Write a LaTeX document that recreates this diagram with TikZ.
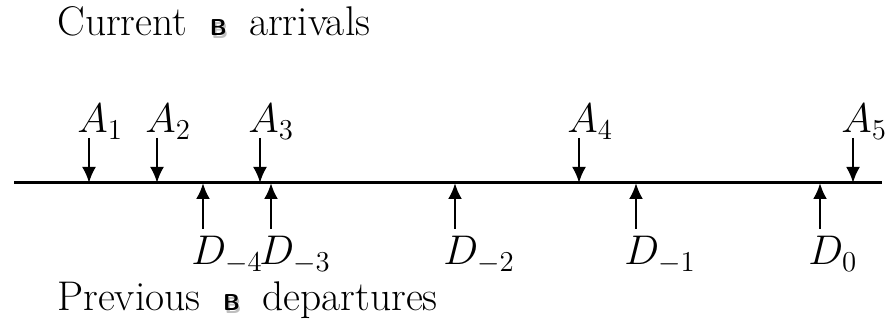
\documentclass[tikz,border=0pt]{standalone}
\usetikzlibrary{arrows.meta}
\newcommand{\bmark}{\hspace{5pt}{\sffamily\bfseries\fontsize{11.5}{13}\selectfont\rlap{\hspace{0.8pt}\raisebox{-1.2pt}{\color{black!25}B}}B}\hspace{5pt}}
\begin{document}
\begin{tikzpicture}[x=0.5pt,y=0.5pt,
  axis/.style={line width=1.5pt},
  tick/.style={line width=1.3pt,-{Latex[length=8pt,width=7pt]}},
  lbl/.style={anchor=base west,inner sep=0pt,font=\fontsize{20.74}{25}\selectfont},
  title/.style={anchor=base west,inner sep=0pt,font=\fontsize{20.74}{25}\selectfont}]
\useasboundingbox (0,0) rectangle (889,331);
\node[title] (top) at (57,295) {Current \bmark\ arrivals};
\node[title] (bot) at (57,20) {Previous \bmark\ departures};
\coordinate (L) at (14,148);
\coordinate (R) at (882,148);
\draw[axis] (L) -- (R);
% arrivals
\foreach \x/\n in {89/1,157/2,260/3,579/4,853/5}{
  \coordinate (a\n s) at (\x,193);
  \coordinate (a\n e) at (\x,148);
  \draw[tick] (a\n s) -- (a\n e);
  \node[lbl] (A\n) at (\x-12,198) {$A_{\n}$};
}
% departures
\foreach \x/\n/\t in {203/m4/-4,271/m3/-3,455/m2/-2,636/m1/-1,820/z/0}{
  \coordinate (d\n s) at (\x,102);
  \coordinate (d\n e) at (\x,148);
  \draw[tick] (d\n s) -- (d\n e);
  \node[lbl] (D\n) at (\x-12,66) {$D_{\t}$};
}
\end{tikzpicture}
\end{document}
